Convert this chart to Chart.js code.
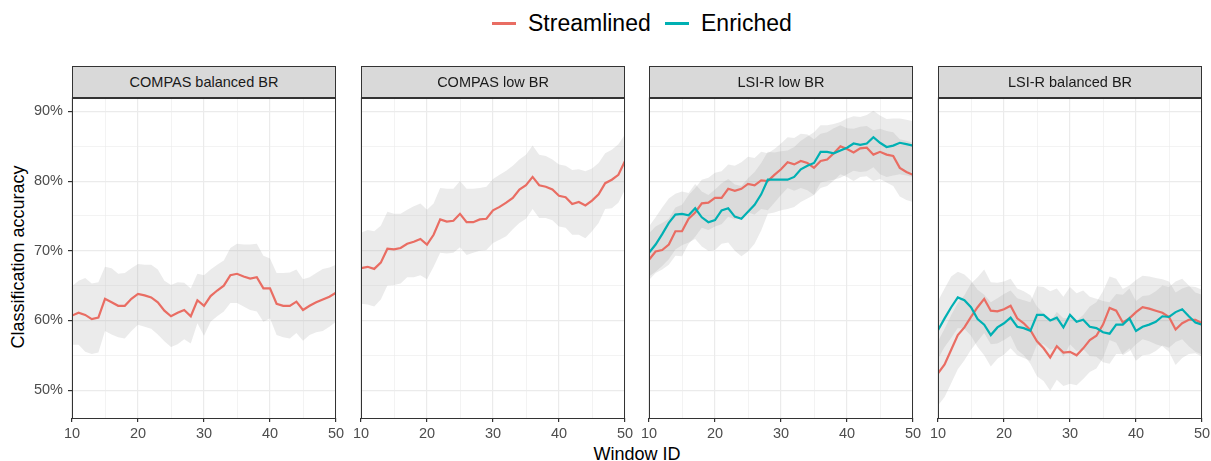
<!DOCTYPE html>
<html>
<head>
<meta charset="utf-8">
<script src="https://cdn.jsdelivr.net/npm/chart.js@4.4.1/dist/chart.umd.min.js"></script>
<style>
  body { margin: 0; background: #fff; font-family: 'Liberation Sans', Arial, sans-serif; }
  #wrap { position: relative; width: 1211px; height: 461px; overflow: hidden; }
  canvas { position: absolute; top: 92px; }
  .strip { position: absolute; top: 66px; height: 31.5px; width: 264px; box-sizing: border-box;
           background: #d9d9d9; border: 1px solid #333; display: flex; align-items: center;
           justify-content: center; font-size: 14.5px; color: #1a1a1a; z-index: 2; }
  .key { position: absolute; top: 21.5px; width: 24px; height: 3px; }
  .ltext { position: absolute; top: 12px; font-size: 23px; line-height: 23px; color: #000; }
  #ytitle { position: absolute; left: -182px; top: 246px; width: 400px; text-align: center;
            font-size: 18px; line-height: 22px; transform: rotate(-90deg); }
  #xtitle { position: absolute; left: 537px; top: 445px; width: 200px; text-align: center;
            font-size: 18px; line-height: 18px; }
</style>
</head>
<body>
<div id="wrap">
  <div class="key" style="left:492px;background:#E96D63"></div>
  <div class="ltext" style="left:528px">Streamlined</div>
  <div class="key" style="left:665px;background:#00B0B3"></div>
  <div class="ltext" style="left:701px">Enriched</div>
  <div id="ytitle">Classification accuracy</div>
  <div id="xtitle">Window ID</div>
</div>
<script>
const windowIds = [10,11,12,13,14,15,16,17,18,19,20,21,22,23,24,25,26,27,28,29,30,
  31,32,33,34,35,36,37,38,39,40,41,42,43,44,45,46,47,48,49,50];
const panelTitles = ['COMPAS balanced BR', 'COMPAS low BR', 'LSI-R low BR', 'LSI-R balanced BR'];
const yTicks = [50,55,60,65,70,75,80,85,90];
const xTicks = [10,15,20,25,30,35,40,45,50];

// COMPAS balanced BR
const compasBalStream = [60.7,61.1,60.8,60.2,60.4,63.1,62.6,62.1,62.1,63.1,63.8,63.6,63.3,62.6,61.4,60.6,61.1,61.5,60.6,62.9,62.1,
  63.5,64.3,65.0,66.5,66.7,66.3,66.0,66.2,64.6,64.6,62.4,62.1,62.1,62.7,61.5,62.1,62.6,63.0,63.4,64.0];
const compasBalStreamHi = [64.9,65.7,66.1,65.3,65.5,67.7,67.5,66.7,66.8,67.5,68.1,68.0,68.0,67.3,65.7,65.1,65.5,65.4,64.6,66.7,66.5,
  67.3,68.0,68.6,70.4,71.0,70.9,70.9,71.0,69.3,68.9,66.8,66.8,66.9,67.3,65.9,66.2,66.8,67.4,67.6,68.0];
const compasBalStreamLo = [56.5,56.5,55.5,55.2,55.4,58.5,58.0,57.6,57.4,58.5,59.4,59.1,58.8,58.0,57.0,56.2,56.6,57.3,56.7,59.6,57.8,
  59.8,60.6,61.3,62.5,62.5,62.0,61.5,61.3,59.8,60.3,57.9,57.6,57.4,58.2,57.1,57.9,58.3,58.5,59.1,59.8];

// COMPAS low BR
const compasLowStream = [67.5,67.7,67.4,68.3,70.3,70.2,70.4,71.0,71.3,71.7,70.9,72.3,74.5,74.2,74.3,75.3,74.1,74.1,74.5,74.6,75.8,
  76.3,76.9,77.6,78.8,79.4,80.6,79.4,79.2,78.8,77.9,77.7,76.7,77.0,76.5,77.2,78.1,79.7,80.2,80.9,82.9];
const compasLowStreamHi = [72.6,73.0,72.8,73.6,75.6,75.3,75.3,75.9,76.4,76.8,75.9,76.8,79.0,78.9,78.9,80.0,78.9,78.9,79.0,79.2,80.3,
  80.9,81.5,82.2,83.1,83.8,85.1,83.8,83.6,83.1,82.4,82.2,81.6,81.7,81.4,81.8,82.6,84.0,84.5,85.3,86.7];
const compasLowStreamLo = [62.4,62.3,62.0,63.0,65.0,65.1,65.3,66.2,66.2,66.5,65.9,67.7,69.7,69.6,69.7,70.5,69.4,69.7,70.0,70.1,71.1,
  71.6,72.1,73.1,74.0,74.6,76.0,74.7,74.7,74.4,73.5,73.3,72.3,72.3,71.8,72.8,74.0,76.0,76.1,76.9,78.8];

// LSI-R low BR
const lsirLowStream = [68.7,69.9,70.1,70.9,72.8,72.8,74.6,75.5,76.8,76.9,77.6,77.6,78.9,78.6,78.9,79.6,79.4,80.1,80.0,80.9,81.7,
  82.7,82.4,82.9,82.6,81.9,82.9,83.1,84.0,85.0,84.6,84.1,84.7,84.8,83.8,84.2,83.8,83.6,81.9,81.3,80.9];
const lsirLowStreamHi = [72.5,73.5,74.0,74.6,76.2,76.6,78.0,79.0,80.2,80.5,81.2,81.4,82.4,82.2,82.7,83.5,83.3,84.2,84.0,84.6,85.4,
  86.3,86.2,86.8,86.7,86.0,86.8,87.0,87.6,88.0,87.6,87.5,87.8,87.9,87.3,87.5,87.2,87.0,86.0,85.8,85.5];
const lsirLowStreamLo = [65.8,66.8,67.3,68.0,69.3,69.2,71.0,72.0,73.3,73.0,73.5,73.8,74.9,74.5,74.8,75.5,75.2,76.0,75.8,76.9,78.0,
  79.0,78.6,79.0,78.7,78.0,79.0,79.3,80.1,81.0,80.6,80.0,80.6,80.7,80.0,80.3,79.8,79.3,77.8,77.3,77.0];
const lsirLowEnrich = [69.7,70.9,72.4,74.0,75.2,75.3,75.1,76.1,74.8,74.1,74.4,75.8,76.1,74.9,74.6,75.6,76.6,78.1,80.2,80.2,80.2,
  80.2,80.6,81.7,82.2,82.6,84.2,84.2,84.0,84.4,84.8,85.4,85.2,85.4,86.3,85.5,84.9,85.1,85.5,85.3,85.1];
const lsirLowEnrichHi = [73.5,74.8,76.2,77.5,78.2,78.5,78.3,79.6,78.5,78.0,78.8,79.7,80.3,79.5,79.3,80.4,81.3,82.6,84.2,84.1,84.3,
  84.4,84.9,85.8,86.4,87.0,88.0,88.0,88.2,88.5,89.0,89.3,89.2,89.5,90.1,89.4,88.9,89.0,89.0,88.8,88.6];
const lsirLowEnrichLo = [66.3,67.0,67.8,68.8,70.2,70.8,71.2,71.7,70.6,70.0,70.1,71.0,71.2,70.0,69.2,69.9,71.0,72.9,75.3,75.5,75.8,
  76.0,76.3,77.0,77.5,78.0,79.8,80.0,80.2,80.5,81.0,81.5,81.3,81.4,82.0,81.0,80.6,80.8,81.0,80.8,80.6];

// LSI-R balanced BR
const lsirBalStream = [52.4,53.7,55.8,57.9,59.0,60.5,61.9,63.1,61.4,61.3,61.6,62.1,60.3,59.6,58.6,57.0,56.0,54.7,56.3,55.4,55.5,
  55.0,56.0,57.2,57.8,59.4,61.8,61.4,59.7,60.3,61.2,61.9,61.7,61.4,61.1,60.5,58.7,59.6,60.1,60.1,59.6];
const lsirBalStreamHi = [57.0,58.8,60.8,62.5,63.6,65.3,66.2,67.3,65.5,65.4,65.6,66.0,64.6,64.2,63.6,62.0,61.0,59.8,61.2,60.3,60.4,
  60.0,60.8,62.0,62.6,64.2,66.3,66.0,64.5,65.0,65.8,66.4,66.3,66.1,65.9,65.6,64.0,64.6,64.9,64.8,64.4];
const lsirBalStreamLo = [47.8,49.0,51.0,53.0,54.3,55.8,57.0,58.2,56.6,56.7,57.2,57.8,55.8,55.0,53.8,52.0,51.3,49.9,51.5,50.6,50.9,
  50.7,51.6,52.6,53.1,54.6,57.2,56.8,55.0,55.6,56.6,57.3,57.0,56.6,56.3,55.5,53.6,54.6,55.2,55.3,54.8];
const lsirBalEnrich = [58.6,60.3,61.9,63.3,62.9,61.9,60.2,59.4,57.9,59.0,59.6,60.4,59.1,58.9,58.5,60.8,60.8,60.0,60.4,59.0,60.8,
  59.8,60.1,59.1,58.9,58.3,58.1,59.4,59.4,60.3,58.5,59.1,59.4,59.8,60.6,60.5,61.2,61.6,60.6,59.7,59.4];
const lsirBalEnrichHi = [62.8,64.6,66.3,67.0,66.6,65.7,64.4,63.7,62.6,63.2,63.8,64.3,63.2,62.9,62.6,64.9,64.8,64.2,64.6,63.4,64.8,
  63.9,64.3,63.4,63.1,62.8,62.6,63.8,63.7,64.6,62.8,63.5,63.6,64.2,65.0,64.8,65.6,66.0,65.0,64.0,63.7];
const lsirBalEnrichLo = [54.5,56.2,57.5,58.9,58.8,57.8,56.2,55.0,53.4,54.5,55.1,56.0,55.0,54.6,54.2,56.5,56.6,55.8,56.2,54.8,56.6,
  55.6,55.9,54.9,54.8,54.0,53.8,55.2,55.2,56.0,54.2,55.0,55.1,55.6,56.4,56.1,56.9,57.3,56.3,55.5,55.1];

const streamColor = '#E96D63';
const enrichColor = '#00B0B3';
const ribbonFill = 'rgba(153,153,153,0.2)';
const fontFamily = "'Liberation Sans', Arial, sans-serif";

const panelLefts = [72, 361, 649, 938];
const panelWidth = 264;

const pts = vals => windowIds.map((w, i) => ({ x: w, y: vals[i] }));

function ribbon(hi, lo) {
  return [
    { data: pts(hi), borderWidth: 0, pointRadius: 0, backgroundColor: ribbonFill, fill: '+1', order: 3 },
    { data: pts(lo), borderWidth: 0, pointRadius: 0, fill: false, order: 3 }
  ];
}
function line(vals, color, order) {
  return { data: pts(vals), borderColor: color, borderWidth: 2.2, pointRadius: 0, fill: false, order: order };
}

const panels = [
  [...ribbon(compasBalStreamHi, compasBalStreamLo), line(compasBalStream, streamColor, 1)],
  [...ribbon(compasLowStreamHi, compasLowStreamLo), line(compasLowStream, streamColor, 1)],
  [...ribbon(lsirLowStreamHi, lsirLowStreamLo), ...ribbon(lsirLowEnrichHi, lsirLowEnrichLo),
   line(lsirLowStream, streamColor, 1), line(lsirLowEnrich, enrichColor, 0)],
  [...ribbon(lsirBalStreamHi, lsirBalStreamLo), ...ribbon(lsirBalEnrichHi, lsirBalEnrichLo),
   line(lsirBalStream, streamColor, 1), line(lsirBalEnrich, enrichColor, 0)]
];

// panel border like theme_bw
const frame = {
  id: 'frame',
  afterDraw(chart) {
    const a = chart.chartArea, ctx = chart.ctx;
    ctx.save();
    ctx.strokeStyle = '#333';
    ctx.lineWidth = 1;
    ctx.strokeRect(Math.round(a.left) + 0.5, Math.round(a.top) + 0.5,
      Math.round(a.right - a.left) - 1, Math.round(a.bottom - a.top) - 1);
    ctx.restore();
  }
};

const isMajor = ctx => ctx.tick && ctx.tick.value % 10 === 0;
const wrap = document.getElementById('wrap');

panels.forEach((datasets, p) => {
  const strip = document.createElement('div');
  strip.className = 'strip';
  strip.style.left = panelLefts[p] + 'px';
  strip.textContent = panelTitles[p];
  wrap.appendChild(strip);

  const cv = document.createElement('canvas');
  cv.width = 72 + panelWidth + 12;
  cv.height = 358;
  cv.style.left = (panelLefts[p] - 72) + 'px';
  wrap.appendChild(cv);
  const showY = p === 0;

  new Chart(cv, {
    type: 'line',
    data: { datasets: datasets },
    plugins: [frame],
    options: {
      responsive: false,
      animation: false,
      layout: { padding: { top: 5.5, right: 12, left: 0, bottom: 0 } },
      plugins: { legend: { display: false }, tooltip: { enabled: false } },
      scales: {
        x: {
          type: 'linear', min: 10, max: 50,
          afterBuildTicks: s => { s.ticks = xTicks.map(v => ({ value: v })); },
          afterFit: s => { s.height = 32; s.paddingLeft = 0; s.paddingRight = 0; },
          ticks: { autoSkip: false, maxRotation: 0, padding: 3, color: '#4d4d4d',
                   font: { size: 14.5, family: fontFamily },
                   callback: v => v % 10 === 0 ? v : '' },
          grid: { color: '#ebebeb', lineWidth: ctx => isMajor(ctx) ? 1.2 : 0.6,
                  tickLength: 4, tickColor: ctx => isMajor(ctx) ? '#333' : 'rgba(0,0,0,0)' },
          border: { display: false }
        },
        y: {
          min: 46, max: 92,
          afterBuildTicks: s => { s.ticks = yTicks.map(v => ({ value: v })); },
          afterFit: s => { s.width = 72; s.paddingTop = 0; s.paddingBottom = 0; },
          ticks: { display: showY, padding: 5, color: '#4d4d4d',
                   font: { size: 14.5, family: fontFamily },
                   callback: v => v % 10 === 0 ? v + '%' : '' },
          grid: { color: '#ebebeb', lineWidth: ctx => isMajor(ctx) ? 1.2 : 0.6,
                  drawTicks: showY, tickLength: 4,
                  tickColor: ctx => isMajor(ctx) ? '#333' : 'rgba(0,0,0,0)' },
          border: { display: false }
        }
      }
    }
  });
});
</script>
</body>
</html>
